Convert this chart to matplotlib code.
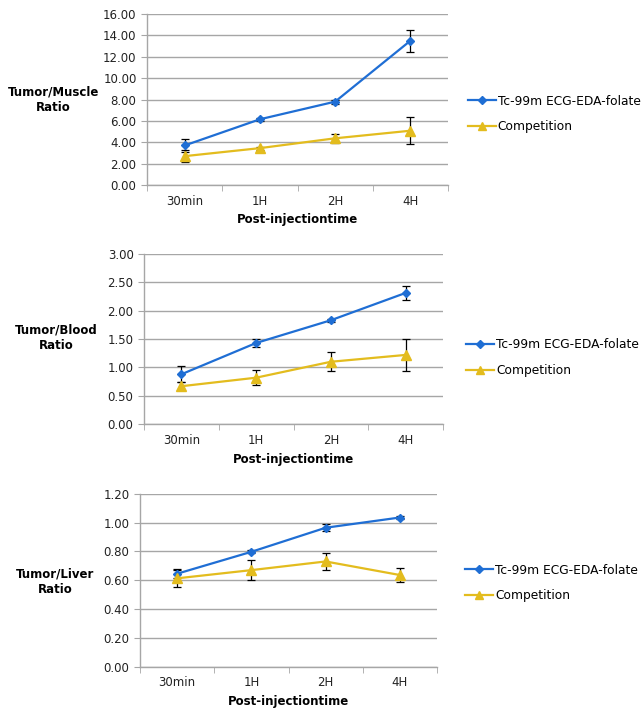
import numpy as np
import matplotlib.pyplot as plt
from matplotlib.lines import Line2D
from matplotlib.ticker import FormatStrFormatter, FixedLocator

# ---- data ----
TIMES = ['30min', '1H', '2H', '4H']
SERIES_NAMES = ['Tc-99m ECG-EDA-folate', 'Competition']

muscle_folate = [3.70, 6.15, 7.80, 13.50]
muscle_folate_err = [0.60, 0.12, 0.20, 1.05]
muscle_comp = [2.70, 3.45, 4.37, 5.08]
muscle_comp_err = [0.55, 0.15, 0.40, 1.28]

blood_folate = [0.88, 1.43, 1.83, 2.31]
blood_folate_err = [0.14, 0.07, 0.03, 0.12]
blood_comp = [0.67, 0.82, 1.10, 1.22]
blood_comp_err = [0.07, 0.13, 0.17, 0.28]

liver_folate = [0.645, 0.797, 0.964, 1.035]
liver_folate_err = [0.030, 0.010, 0.025, 0.010]
liver_comp = [0.613, 0.670, 0.730, 0.636]
liver_comp_err = [0.060, 0.068, 0.060, 0.050]

BLUE = '#1F6ED4'
YELLOW = '#E3BC1E'
GRID = '#A6A6A6'

panels = [
    dict(rect=[0.2283, 0.7398, 0.4674, 0.2405], ylabel='Tumor/Muscle\nRatio',
         ymax=16, ystep=2, y1=muscle_folate, e1=muscle_folate_err,
         y2=muscle_comp, e2=muscle_comp_err, ylab_x=-0.31, ylab_y=0.50,
         leg=(1.066, 0.415)),
    dict(rect=[0.2236, 0.4032, 0.4643, 0.2400], ylabel='Tumor/Blood\nRatio',
         ymax=3, ystep=0.5, y1=blood_folate, e1=blood_folate_err,
         y2=blood_comp, e2=blood_comp_err, ylab_x=-0.294, ylab_y=0.506,
         leg=(1.077, 0.39)),
    dict(rect=[0.2174, 0.0623, 0.4612, 0.2433], ylabel='Tumor/Liver\nRatio',
         ymax=1.2, ystep=0.2, y1=liver_folate, e1=liver_folate_err,
         y2=liver_comp, e2=liver_comp_err, ylab_x=-0.286, ylab_y=0.49,
         leg=(1.094, 0.484)),
]

fig = plt.figure(figsize=(6.44, 7.11), dpi=100)
x = np.arange(1, len(TIMES) + 1)

# legend keys: line + marker only (no error bars)
legend_handles = [
    Line2D([], [], color=BLUE, marker='D', markersize=4.5, linewidth=1.6),
    Line2D([], [], color=YELLOW, marker='^', markersize=6, linewidth=1.6),
]

for p in panels:
    ax = fig.add_axes(p['rect'])
    ax.errorbar(x, p['y1'], yerr=p['e1'], color=BLUE, marker='D', markersize=4.5,
                linewidth=1.6, ecolor='black', elinewidth=0.9, capsize=3,
                capthick=0.9, zorder=3)
    ax.errorbar(x, p['y2'], yerr=p['e2'], color=YELLOW, marker='^', markersize=6.5,
                linewidth=1.6, ecolor='black', elinewidth=0.9, capsize=3,
                capthick=0.9, zorder=3)

    ax.set_xlim(0.5, len(TIMES) + 0.5)
    ax.set_ylim(0, p['ymax'])
    ax.set_yticks(np.arange(0, p['ymax'] + p['ystep'] / 2, p['ystep']))
    ax.yaxis.set_major_formatter(FormatStrFormatter('%.2f'))
    ax.set_xticks(x)
    ax.set_xticklabels(TIMES)
    ax.xaxis.set_minor_locator(FixedLocator(np.arange(0.5, len(TIMES) + 1, 1)))
    ax.tick_params(axis='x', which='major', length=0, pad=7, labelsize=8.5, colors='#222222')
    ax.tick_params(axis='x', which='minor', length=4, color=GRID, direction='out')
    ax.tick_params(axis='y', length=4, color=GRID, labelsize=8.5, labelcolor='#222222')

    ax.grid(axis='y', color=GRID, linewidth=1.0)
    ax.set_axisbelow(True)
    for s in ['top', 'right']:
        ax.spines[s].set_visible(False)
    for s in ['left', 'bottom']:
        ax.spines[s].set_color(GRID)
        ax.spines[s].set_linewidth(1.0)

    ax.set_xlabel('Post-injectiontime', fontsize=8.5, fontweight='bold', labelpad=4)
    ax.set_ylabel(p['ylabel'], fontsize=8.5, fontweight='bold', rotation=0,
                  ha='center', va='center', linespacing=1.3)
    ax.yaxis.set_label_coords(p['ylab_x'], p['ylab_y'])

    ax.legend(legend_handles, SERIES_NAMES, loc='center left', bbox_to_anchor=p['leg'],
              frameon=False, fontsize=8.8, borderpad=0, borderaxespad=0,
              handlelength=2.3, handletextpad=0.15, labelspacing=1.05)

fig.savefig('out.png', dpi=100)
